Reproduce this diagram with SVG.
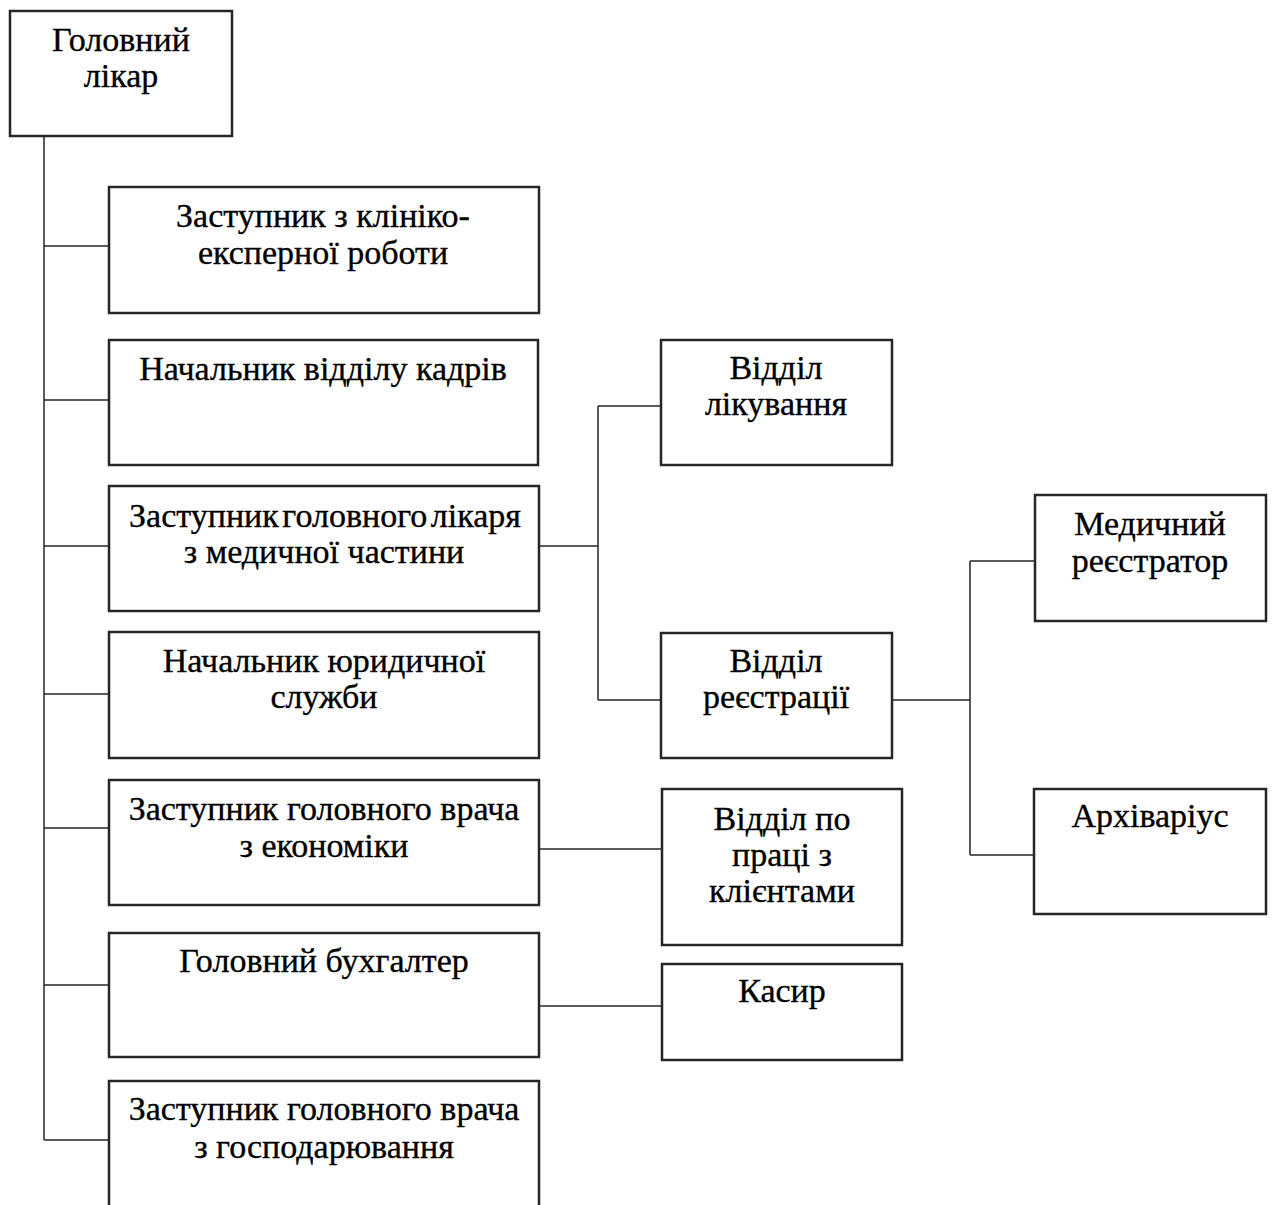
<svg xmlns="http://www.w3.org/2000/svg" width="1273" height="1205" viewBox="0 0 1273 1205">
<style>
.box{fill:#fff;stroke:#262626;stroke-width:2.5}
.ln{fill:none;stroke:#262626;stroke-width:1.5}
text{font-family:"Liberation Serif","Times New Roman",serif;font-size:34px;fill:#000;stroke:#000;stroke-width:0.35;text-anchor:middle}
</style>
<rect width="1273" height="1205" fill="#fff"/>
<g id="connectors">
<path class="ln" d="M44 136V1140"/>
<path class="ln" d="M44 246H109M44 400H109M44 546H109M44 694H109M44 828H109M44 985H109M44 1140H109"/>
<path class="ln" d="M539 546H598M598 406V700M598 406H661M598 700H661"/>
<path class="ln" d="M892 700H970M970 561V855M970 561H1035M970 855H1035"/>
<path class="ln" d="M539 849H662"/>
<path class="ln" d="M539 1006H662"/>
</g>
<g id="n-head"><rect class="box" x="10" y="11" width="222" height="125"/><text x="121" y="51">Головний</text><text x="121" y="87">лікар</text></g>
<g id="n-klin"><rect class="box" x="109" y="187" width="430" height="126"/><text x="323" y="227">Заступник з клініко-</text><text x="323" y="264">експерної роботи</text></g>
<g id="n-kadry"><rect class="box" x="109" y="340" width="429" height="125"/><text x="323" y="380">Начальник відділу кадрів</text></g>
<g id="n-med"><rect class="box" x="109" y="486" width="430" height="125"/><text x="325" y="527" word-spacing="-5">Заступник головного лікаря</text><text x="324" y="563">з медичної частини</text></g>
<g id="n-yur"><rect class="box" x="109" y="632" width="430" height="126"/><text x="324" y="672">Начальник юридичної</text><text x="324" y="708">служби</text></g>
<g id="n-econ"><rect class="box" x="109" y="780" width="430" height="125"/><text x="324" y="820">Заступник головного врача</text><text x="324" y="857">з економіки</text></g>
<g id="n-buh"><rect class="box" x="109" y="933" width="430" height="124"/><text x="324" y="972">Головний бухгалтер</text></g>
<g id="n-gosp"><rect class="box" x="109" y="1081" width="430" height="140"/><text x="324" y="1120">Заступник головного врача</text><text x="324" y="1158">з господарювання</text></g>
<g id="n-likuv"><rect class="box" x="661" y="340" width="231" height="125"/><text x="776" y="379">Відділ</text><text x="776" y="415">лікування</text></g>
<g id="n-reestr"><rect class="box" x="661" y="633" width="231" height="125"/><text x="776" y="672">Відділ</text><text x="776" y="708">реєстрації</text></g>
<g id="n-medreg"><rect class="box" x="1035" y="495" width="231" height="126"/><text x="1150" y="535">Медичний</text><text x="1150" y="572">реєстратор</text></g>
<g id="n-arch"><rect class="box" x="1034" y="789" width="232" height="125"/><text x="1150" y="827">Архіваріус</text></g>
<g id="n-klient"><rect class="box" x="662" y="789" width="240" height="156"/><text x="782" y="830">Відділ по</text><text x="782" y="866">праці з</text><text x="782" y="902">клієнтами</text></g>
<g id="n-kasyr"><rect class="box" x="662" y="964" width="240" height="96"/><text x="782" y="1002">Касир</text></g>
</svg>
